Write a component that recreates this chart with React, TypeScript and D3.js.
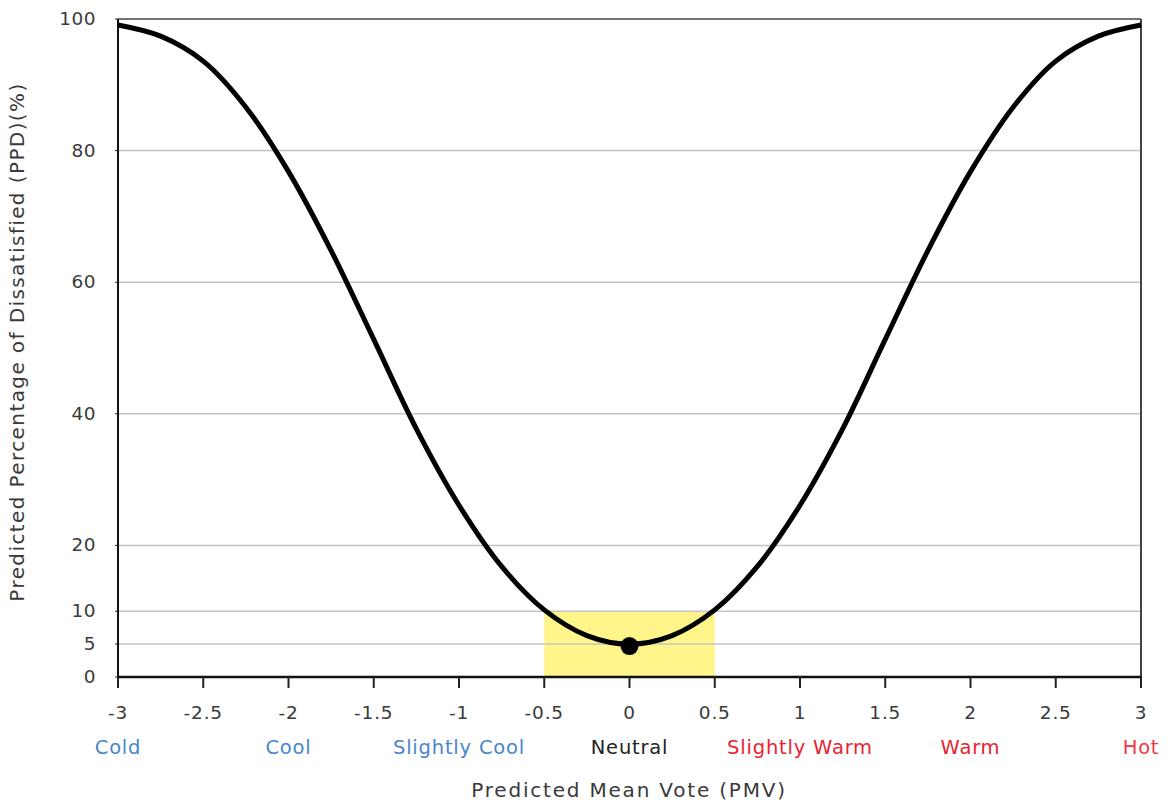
import React from "react";
import * as d3 from "d3";

const pmvValues = [-3, -2.75, -2.5, -2.25, -2, -1.75, -1.5, -1.25, -1, -0.75, -0.5, -0.25, 0, 0.25, 0.5, 0.75, 1, 1.25, 1.5, 1.75, 2, 2.25, 2.5, 2.75, 3];
const ppdValues = [99.1, 97.4, 93.6, 86.6, 76.8, 64.8, 51.3, 37.7, 26.1, 16.8, 10.2, 6.3, 5, 6.3, 10.2, 16.8, 26.1, 37.7, 51.3, 64.8, 76.8, 86.6, 93.6, 97.4, 99.1];
const xTicks = [-3, -2.5, -2, -1.5, -1, -0.5, 0, 0.5, 1, 1.5, 2, 2.5, 3];
const yTicks = [0, 5, 10, 20, 40, 60, 80, 100];
const sensationLabels = ["Cold", "Cool", "Slightly Cool", "Neutral", "Slightly Warm", "Warm", "Hot"];
const sensationPmv = [-3, -2, -1, 0, 1, 2, 3];
const sensationColors = ["#4a86cc", "#4a86cc", "#4a86cc", "#222222", "#e8232f", "#e8232f", "#ee3a45"];
const comfortZone = { pmvMin: -0.5, pmvMax: 0.5, ppdMax: 10 };
const neutralPoint = { pmv: 0, ppd: 5 };

const W = 1171, H = 805;
const M = { left: 118, right: 1141, top: 19, bottom: 677 };
const FONT = "'DejaVu Sans', sans-serif";

export default function App() {
  const x = d3.scaleLinear().domain([-3, 3]).range([M.left, M.right]);
  const y = d3.scaleLinear().domain([0, 100]).range([M.bottom, M.top]);
  const data = pmvValues.map((p, i) => [p, ppdValues[i]] as [number, number]);
  const line = d3.line<[number, number]>().x(d => x(d[0])).y(d => y(d[1])).curve(d3.curveCatmullRom.alpha(0.5));

  return (
    <svg width={W} height={H} style={{ position: "absolute", left: 0, top: 0, background: "#fff" }} fontFamily={FONT}>
      <rect
        x={x(comfortZone.pmvMin)}
        y={y(comfortZone.ppdMax)}
        width={x(comfortZone.pmvMax) - x(comfortZone.pmvMin)}
        height={y(0) - y(comfortZone.ppdMax)}
        fill="#fff58a"
      />
      {yTicks.filter(t => t > 0 && t < 100).map(t => (
        <line key={t} x1={M.left} x2={M.right} y1={y(t)} y2={y(t)} stroke="#c4c4c4" strokeWidth={1.5} />
      ))}
      <line x1={M.left} x2={M.right} y1={M.top} y2={M.top} stroke="#444" strokeWidth={1.5} />
      <line x1={M.right} x2={M.right} y1={M.top} y2={M.bottom} stroke="#444" strokeWidth={2} />
      <line x1={M.left} x2={M.left} y1={M.top} y2={M.bottom} stroke="#111" strokeWidth={2} />
      <line x1={M.left - 1} x2={M.right + 1} y1={M.bottom} y2={M.bottom} stroke="#111" strokeWidth={2.5} />
      <path d={line(data) || ""} fill="none" stroke="#000" strokeWidth={5} strokeLinejoin="round" />
      <circle cx={x(neutralPoint.pmv)} cy={y(neutralPoint.ppd) + 2} r={9} fill="#000" />
      {xTicks.map(t => (
        <g key={t}>
          <line x1={x(t)} x2={x(t)} y1={M.bottom} y2={M.bottom + 11} stroke="#222" strokeWidth={2} />
          <text x={x(t)} y={719} textAnchor="middle" fontSize={18.5} fill="#3a3a3a" letterSpacing={0.8}>{String(t)}</text>
        </g>
      ))}
      {yTicks.map(t => (
        <g key={t}>
          <line x1={M.left - 3} x2={M.left} y1={y(t)} y2={y(t)} stroke="#222" strokeWidth={1} />
          <text x={96} y={y(t) + 6} textAnchor="end" fontSize={18.5} fill="#3a3a3a" letterSpacing={0.5}>{t}</text>
        </g>
      ))}
      {sensationLabels.map((s, i) => (
        <text key={s} x={x(sensationPmv[i])} y={754} textAnchor="middle" fontSize={19.5} fill={sensationColors[i]} letterSpacing={0.8}>{s}</text>
      ))}
      <text x={629} y={797} textAnchor="middle" fontSize={20} fill="#3a3a3a" letterSpacing={1.8}>Predicted Mean Vote (PMV)</text>
      <text transform={`translate(24, 342) rotate(-90)`} textAnchor="middle" fontSize={20} fill="#3a3a3a" letterSpacing={1.4}>
        Predicted Percentage of Dissatisfied (PPD)(%)
      </text>
    </svg>
  );
}
